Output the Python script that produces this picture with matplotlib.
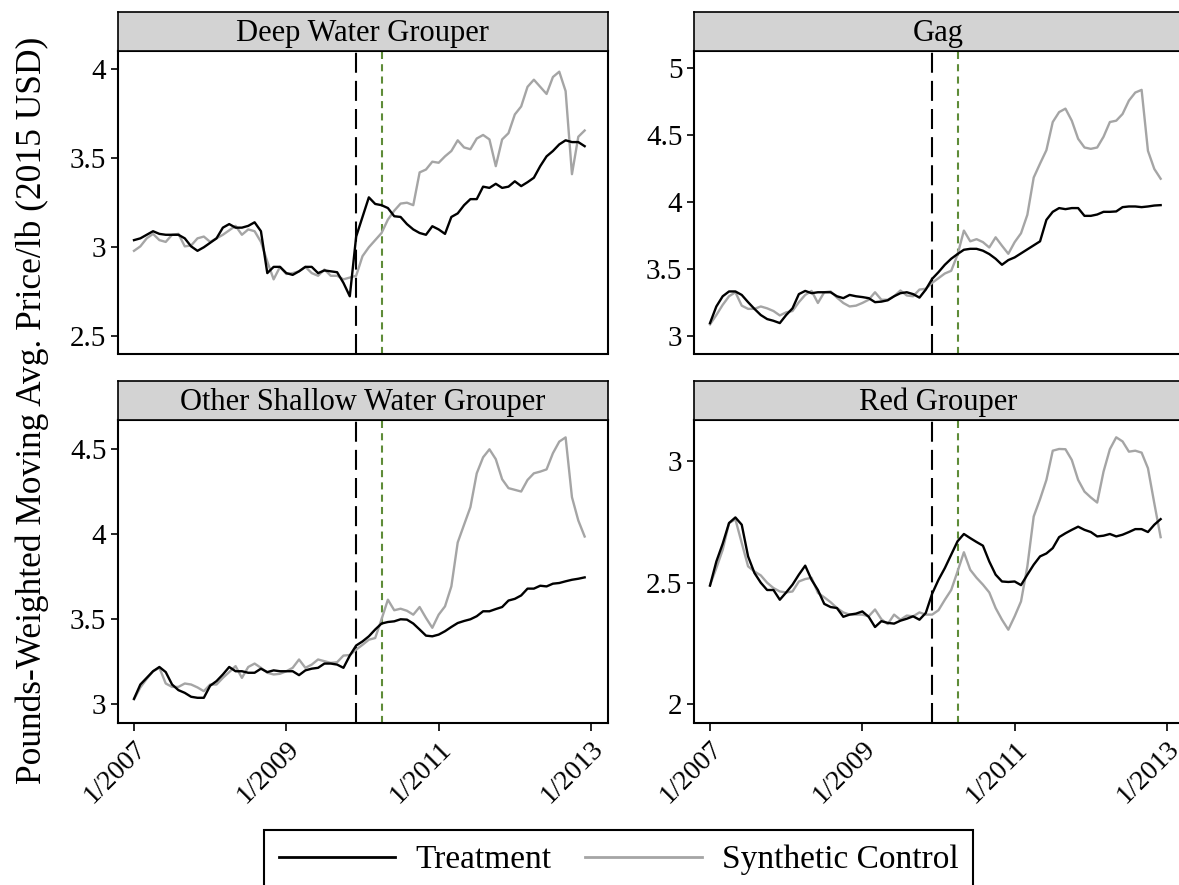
import numpy as np
import matplotlib.pyplot as plt
from matplotlib.lines import Line2D

plt.rcParams['font.family'] = ['Liberation Serif', 'DejaVu Serif']

# months since 1/2007 (0 = Jan 2007, 71 = Dec 2012)
months = np.arange(72)
treat_month = 35     # 12/2009
green_month = 39     # 4/2010

titles = ['Deep Water Grouper', 'Gag', 'Other Shallow Water Grouper', 'Red Grouper']

deep_treat = [3.04, 3.05, 3.07, 3.09, 3.075, 3.07, 3.07, 3.07, 3.05, 3.005,
              2.98, 3.00, 3.025, 3.05, 3.11, 3.13, 3.11, 3.11, 3.12, 3.14,
              3.09, 2.855, 2.89, 2.89, 2.855, 2.845, 2.865, 2.89, 2.89, 2.855,
              2.87, 2.865, 2.86, 2.80, 2.725, 3.06, 3.17, 3.28, 3.243, 3.236,
              3.22, 3.174, 3.17, 3.13, 3.10, 3.08, 3.07, 3.118, 3.10, 3.075,
              3.17, 3.19, 3.236, 3.27, 3.27, 3.34, 3.333, 3.356, 3.333, 3.34,
              3.37, 3.343, 3.365, 3.39, 3.455, 3.51, 3.54, 3.577, 3.60, 3.59,
              3.59, 3.567]
deep_synth = [2.98, 3.005, 3.05, 3.075, 3.04, 3.03, 3.07, 3.075, 3.005, 3.01,
              3.05, 3.06, 3.03, 3.05, 3.07, 3.095, 3.12, 3.07, 3.10, 3.09,
              3.03, 2.92, 2.82, 2.89, 2.85, 2.855, 2.865, 2.89, 2.855, 2.84,
              2.875, 2.84, 2.84, 2.82, 2.83, 2.84, 2.95, 3.00, 3.04, 3.08,
              3.155, 3.205, 3.245, 3.25, 3.236, 3.42, 3.436, 3.48, 3.474, 3.51,
              3.54, 3.60, 3.56, 3.55, 3.61, 3.63, 3.605, 3.455, 3.605, 3.64,
              3.745, 3.79, 3.90, 3.94, 3.90, 3.86, 3.955, 3.985, 3.876, 3.41,
              3.62, 3.655]

gag_treat = [3.10, 3.224, 3.30, 3.336, 3.336, 3.31, 3.256, 3.206, 3.16, 3.13,
             3.117, 3.10, 3.16, 3.21, 3.316, 3.34, 3.323, 3.33, 3.33, 3.33,
             3.30, 3.286, 3.31, 3.30, 3.294, 3.286, 3.256, 3.26, 3.27, 3.30,
             3.323, 3.33, 3.316, 3.29, 3.35, 3.43, 3.48, 3.535, 3.58, 3.615,
             3.647, 3.654, 3.654, 3.64, 3.615, 3.58, 3.535, 3.57, 3.59, 3.62,
             3.65, 3.68, 3.71, 3.87, 3.93, 3.958, 3.95, 3.958, 3.958, 3.90,
             3.90, 3.91, 3.93, 3.93, 3.933, 3.965, 3.97, 3.97, 3.965, 3.97,
             3.977, 3.98]
gag_synth = [3.09, 3.16, 3.236, 3.30, 3.33, 3.23, 3.206, 3.206, 3.224, 3.21,
             3.19, 3.157, 3.18, 3.19, 3.256, 3.31, 3.34, 3.25, 3.33, 3.336,
             3.29, 3.25, 3.224, 3.23, 3.25, 3.274, 3.33, 3.274, 3.274, 3.30,
             3.343, 3.306, 3.30, 3.35, 3.356, 3.40, 3.435, 3.47, 3.49, 3.61,
             3.79, 3.71, 3.726, 3.704, 3.664, 3.74, 3.677, 3.617, 3.704, 3.77,
             3.908, 4.186, 4.29, 4.39, 4.60, 4.674, 4.70, 4.61, 4.475, 4.41,
             4.40, 4.41, 4.49, 4.60, 4.61, 4.66, 4.76, 4.82, 4.84, 4.385,
             4.25, 4.177]

osw_treat = [3.033, 3.117, 3.156, 3.195, 3.22, 3.19, 3.117, 3.084, 3.068, 3.045,
             3.039, 3.039, 3.11, 3.137, 3.176, 3.22, 3.195, 3.195, 3.186, 3.186,
             3.21, 3.19, 3.20, 3.195, 3.195, 3.195, 3.172, 3.20, 3.21, 3.215,
             3.24, 3.24, 3.234, 3.215, 3.287, 3.346, 3.37, 3.40, 3.44, 3.475,
             3.484, 3.488, 3.50, 3.498, 3.475, 3.44, 3.404, 3.40, 3.41, 3.43,
             3.455, 3.478, 3.49, 3.50, 3.518, 3.547, 3.547, 3.56, 3.572, 3.61,
             3.62, 3.64, 3.68, 3.68, 3.697, 3.693, 3.709, 3.713, 3.723, 3.732,
             3.738, 3.746]
osw_synth = [3.03, 3.10, 3.15, 3.195, 3.215, 3.123, 3.103, 3.103, 3.123, 3.117,
             3.10, 3.078, 3.117, 3.117, 3.156, 3.19, 3.225, 3.156, 3.22, 3.24,
             3.215, 3.186, 3.176, 3.18, 3.195, 3.215, 3.264, 3.215, 3.234, 3.264,
             3.254, 3.244, 3.248, 3.287, 3.29, 3.322, 3.35, 3.38, 3.39, 3.50,
             3.615, 3.553, 3.562, 3.55, 3.527, 3.572, 3.508, 3.45, 3.527, 3.576,
             3.693, 3.951, 4.055, 4.158, 4.357, 4.451, 4.498, 4.44, 4.322, 4.27,
             4.26, 4.25, 4.318, 4.357, 4.367, 4.38, 4.475, 4.543, 4.568, 4.217,
             4.08, 3.986]

red_treat = [2.488, 2.587, 2.66, 2.745, 2.768, 2.738, 2.608, 2.54, 2.50, 2.47,
             2.47, 2.43, 2.46, 2.492, 2.533, 2.57, 2.512, 2.47, 2.413, 2.40,
             2.396, 2.36, 2.369, 2.373, 2.382, 2.36, 2.318, 2.342, 2.335, 2.332,
             2.344, 2.352, 2.362, 2.348, 2.376, 2.455, 2.512, 2.56, 2.615, 2.67,
             2.70, 2.683, 2.667, 2.652, 2.587, 2.533, 2.505, 2.503, 2.505, 2.49,
             2.533, 2.574, 2.608, 2.62, 2.642, 2.687, 2.703, 2.717, 2.73, 2.717,
             2.708, 2.69, 2.693, 2.70, 2.69, 2.697, 2.708, 2.72, 2.72, 2.708,
             2.738, 2.761]
red_synth = [2.49, 2.56, 2.635, 2.745, 2.76, 2.663, 2.567, 2.546, 2.53, 2.50,
             2.478, 2.464, 2.46, 2.464, 2.505, 2.515, 2.52, 2.458, 2.44, 2.42,
             2.396, 2.378, 2.369, 2.369, 2.369, 2.362, 2.39, 2.35, 2.33, 2.369,
             2.348, 2.365, 2.362, 2.378, 2.369, 2.369, 2.387, 2.43, 2.47, 2.546,
             2.625, 2.553, 2.52, 2.492, 2.46, 2.396, 2.348, 2.307, 2.362, 2.423,
             2.567, 2.772, 2.843, 2.922, 3.042, 3.049, 3.048, 3.004, 2.922, 2.874,
             2.85, 2.829, 2.956, 3.048, 3.097, 3.08, 3.038, 3.042, 3.034, 2.97,
             2.826, 2.687]

treat = [deep_treat, gag_treat, osw_treat, red_treat]
synth = [deep_synth, gag_synth, osw_synth, red_synth]
ylims = [(2.404, 4.101), (2.873, 5.13), (2.894, 4.67), (1.926, 3.168)]
yticks = [[2.5, 3, 3.5, 4], [3, 3.5, 4, 4.5, 5], [3, 3.5, 4, 4.5], [2, 2.5, 3]]
xtick_pos = [0, 24, 48, 72]
xtick_lab = ['1/2007', '1/2009', '1/2011', '1/2013']

W, H = 1179, 885
fig = plt.figure(figsize=(W / 100, H / 100), dpi=100)

# panel boxes in pixels: left, top, width, height
lefts = [117.5, 693.5]
tops = [51, 420]
pw, ph = 490, 302.5
sh = 39

for i in range(4):
    r, c = divmod(i, 2)
    l, t = lefts[c], tops[r]
    ax = fig.add_axes([l / W, 1 - (t + ph) / H, pw / W, ph / H])
    ax.axvline(treat_month, color='black', lw=1.5, ls=(0, (9.6, 3.9)), zorder=1)
    ax.axvline(green_month, color='#5e8c38', lw=1.5, ls=(0, (3.4, 2.5)), zorder=1)
    ax.plot(months, treat[i], color='black', lw=1.7, zorder=3)
    ax.plot(months, synth[i], color='#a5a5a5', lw=1.7, zorder=2)
    ax.set_xlim(-2.6, 74.6)
    ax.set_ylim(*ylims[i])
    ax.set_yticks(yticks[i])
    ax.set_yticklabels(['%g' % v for v in yticks[i]])
    ax.tick_params(axis='y', length=5, width=1.2, labelsize=21, pad=3)
    if r == 1:
        ax.set_xticks(xtick_pos)
        ax.set_xticklabels(xtick_lab, rotation=45, ha='right', va='top',
                           rotation_mode='anchor')
        ax.tick_params(axis='x', length=6, width=1.2, labelsize=20, pad=4)
    else:
        ax.set_xticks([])
    for s in ax.spines.values():
        s.set_linewidth(1.5)

    st = fig.add_axes([l / W, 1 - t / H, pw / W, sh / H])
    st.set_facecolor('#d3d3d3')
    st.set_xticks([])
    st.set_yticks([])
    for s in st.spines.values():
        s.set_linewidth(1.2)
    st.text(0.5, 0.45, titles[i], ha='center', va='center', fontsize=22,
            transform=st.transAxes)

fig.text(32 / W, 1 - 410 / H, 'Pounds-Weighted Moving Avg. Price/lb (2015 USD)',
         rotation=90, ha='center', va='center', fontsize=25.5)

handles = [Line2D([], [], color='black', lw=2),
           Line2D([], [], color='#a5a5a5', lw=2)]
leg = fig.legend(handles, ['Treatment', 'Synthetic Control'], loc='center',
                 bbox_to_anchor=(618.5 / W, 1 - 860 / H), ncol=2, fontsize=24,
                 frameon=True, fancybox=False, edgecolor='black', framealpha=1,
                 handlelength=3.5, handletextpad=0.6, columnspacing=1.0,
                 borderpad=0.45)
leg.get_frame().set_linewidth(1.5)

fig.savefig('out.png', dpi=100)
